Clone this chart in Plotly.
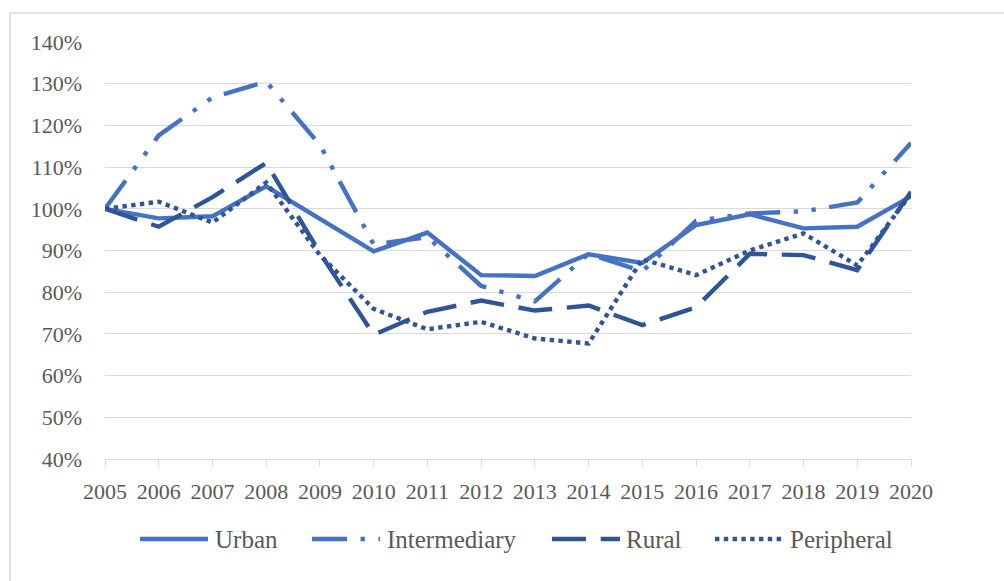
import plotly.graph_objects as go

years = list(range(2005, 2021))
urban = [100, 97.7, 98.2, 105.4, 97.6, 89.8, 94.3, 84.1, 83.9, 89.1, 87.0, 96.1, 98.7, 95.3, 95.7, 103.0]
intermediary = [100, 117.6, 126.7, 130.5, 115.3, 91.5, 93.2, 81.5, 77.8, 89.2, 85.0, 97.1, 98.9, 99.4, 101.5, 115.8]
rural = [100, 95.7, 102.8, 111.0, 89.4, 69.8, 75.3, 78.0, 75.6, 76.8, 72.1, 76.4, 89.2, 88.9, 85.3, 104.1]
peripheral = [100, 101.7, 96.7, 106.3, 88.9, 76.0, 71.1, 72.9, 68.9, 67.7, 87.9, 84.1, 90.0, 94.1, 86.4, 103.6]

series_names = ["Urban", "Intermediary", "Rural", "Peripheral"]
series_values = [urban, intermediary, rural, peripheral]

LIGHT = "#4472C4"
DARK = "#2F5597"
colors = [LIGHT, LIGHT, DARK, DARK]
dashes = ["solid", "35px,13.5px,4.4px,13.5px,4.4px,13.5px", "34px,14.7px", "4.4px,4.4px"]
LW = 4.4
FONT = "Liberation Serif"
TXT = "#595959"

W, H = 1004, 581
ML, MR, MT, MB = 105, 93, 42, 122
PW, PH = W - ML - MR, H - MT - MB


def px_to_paper_x(px):
    return (px - ML) / PW


def px_to_paper_y(py):
    return (H - MB - py) / PH


fig = go.Figure()
for name, vals, col, dsh in zip(series_names, series_values, colors, dashes):
    fig.add_trace(go.Scatter(x=years, y=vals, mode="lines", name=name,
                             line=dict(color=col, width=LW, dash=dsh),
                             showlegend=False))

# outer chart frame (extends beyond the visible area on right/bottom)
shapes = [dict(type="rect", xref="paper", yref="paper",
               x0=px_to_paper_x(10), x1=px_to_paper_x(1100),
               y0=px_to_paper_y(640), y1=px_to_paper_y(13),
               line=dict(color="#D9D9D9", width=1.5), fillcolor="rgba(0,0,0,0)", layer="below")]

# manual legend (long sample lines, as in the original)
leg_y = 539
leg_items = [(140, 215), (312, 387), (552, 626), (715, 790)]
annotations = []
for (lx, tx), name, col, dsh in zip(leg_items, series_names, colors, dashes):
    shapes.append(dict(type="line", xref="paper", yref="paper",
                       x0=px_to_paper_x(lx), x1=px_to_paper_x(lx + 68),
                       y0=px_to_paper_y(leg_y), y1=px_to_paper_y(leg_y),
                       line=dict(color=col, width=LW, dash=dsh)))
    annotations.append(dict(xref="paper", yref="paper", x=px_to_paper_x(tx - 2), y=px_to_paper_y(leg_y),
                            xanchor="left", yanchor="middle", text=name, showarrow=False,
                            font=dict(family=FONT, size=25, color=TXT)))

fig.update_layout(
    width=W, height=H,
    margin=dict(l=ML, r=MR, t=MT, b=MB, pad=0),
    paper_bgcolor="white", plot_bgcolor="white",
    shapes=shapes, annotations=annotations,
    font=dict(family=FONT, size=22, color=TXT),
    xaxis=dict(range=[2005, 2020], tickvals=years, ticktext=[str(y) for y in years],
               showgrid=False, zeroline=False, showline=True, linecolor="#D9D9D9", linewidth=1,
               ticks="outside", ticklen=7, tickcolor="#D9D9D9", tickwidth=1,
               tickfont=dict(family=FONT, size=22, color=TXT), ticklabelstandoff=6),
    yaxis=dict(range=[40, 140], dtick=10, tick0=40, ticksuffix="%",
               showgrid=True, gridcolor="#D9D9D9", gridwidth=1, zeroline=False, showline=False,
               ticks="", tickfont=dict(family=FONT, size=22, color=TXT), ticklabelstandoff=22),
)

fig.write_html("out.html")
